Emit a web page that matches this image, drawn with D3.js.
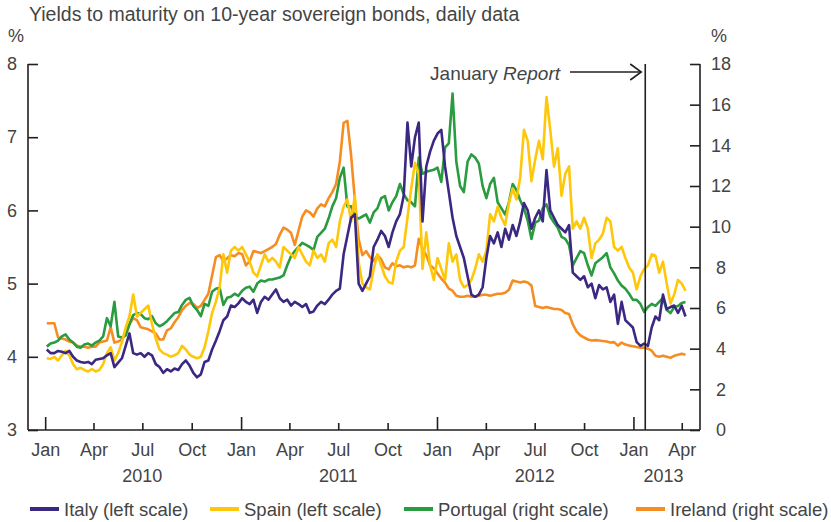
<!DOCTYPE html>
<html><head><meta charset="utf-8">
<script src="https://cdn.jsdelivr.net/npm/d3@7"></script>
<style>
body{margin:0;background:#fff;}
svg text{font-family:"Liberation Sans",Arial,Helvetica,sans-serif;fill:#444;}
</style></head>
<body><svg id="c" width="831" height="522"></svg>
<script>
// Weekly readings (first week starting 2010-01-04)
const italy = [4.1,4.05,4.05,4.08,4.07,4.05,4.08,4.0,3.95,3.93,3.92,3.93,3.9,3.96,3.97,3.98,4.02,4.05,3.86,3.92,3.98,4.15,4.32,4.05,4.03,4.05,4.0,4.05,4.02,3.9,3.86,3.78,3.83,3.8,3.84,3.82,3.9,3.95,3.88,3.78,3.72,3.76,3.93,3.95,4.1,4.22,4.35,4.5,4.55,4.7,4.68,4.73,4.8,4.75,4.72,4.78,4.6,4.75,4.82,4.78,4.85,4.92,4.8,4.75,4.78,4.7,4.75,4.72,4.68,4.72,4.6,4.62,4.7,4.75,4.72,4.78,4.85,4.9,4.93,5.4,5.65,5.9,5.95,5.0,4.9,5.0,5.1,5.5,5.6,5.72,5.65,5.5,5.7,5.85,5.95,6.2,7.2,6.6,7.0,7.2,5.85,6.6,6.8,6.95,7.05,7.1,6.6,6.25,5.9,5.65,5.5,5.35,5.1,4.85,4.82,4.85,4.95,5.35,5.65,5.55,5.7,5.5,5.75,5.6,5.8,5.65,5.85,6.1,6.0,5.75,5.9,6.0,5.85,6.55,6.0,5.9,5.8,5.75,5.7,5.8,5.15,5.1,5.05,5.1,4.95,5.0,4.8,4.98,4.92,4.95,4.75,4.85,4.45,4.75,4.5,4.45,4.4,4.2,4.15,4.18,4.15,4.4,4.55,4.5,4.85,4.65,4.68,4.7,4.6,4.7,4.55];
const spain = [3.98,3.97,4.0,3.95,4.02,4.08,4.02,3.9,3.83,3.85,3.82,3.8,3.83,3.8,3.82,3.9,4.05,4.13,3.95,4.05,4.2,4.4,4.55,4.85,4.55,4.6,4.65,4.7,4.45,4.25,4.1,4.05,4.03,4.0,4.02,4.05,4.15,4.1,4.03,4.0,3.98,4.0,4.13,4.35,4.6,4.75,4.95,5.4,5.15,5.45,5.5,5.45,5.5,5.4,5.3,5.15,5.1,5.25,5.4,5.3,5.35,5.3,5.22,5.5,5.45,5.4,5.35,5.5,5.4,5.3,5.25,5.45,5.35,5.4,5.3,5.55,5.6,5.5,5.85,6.05,6.15,5.85,6.2,5.3,5.0,4.95,4.92,5.2,5.4,5.25,5.1,5.02,5.0,5.3,5.45,5.5,5.9,6.3,6.65,6.5,5.2,5.7,5.25,5.05,5.35,5.2,5.05,5.55,5.3,5.4,5.05,4.95,4.98,5.05,5.2,5.4,5.3,5.45,5.95,5.85,6.05,5.9,5.8,6.1,6.3,6.15,6.45,7.1,6.95,6.4,6.7,6.95,6.7,7.55,7.1,6.6,6.85,6.2,6.5,6.6,5.75,5.85,5.75,5.9,5.75,5.35,5.55,5.6,5.68,5.9,5.85,5.5,5.45,5.5,5.35,5.22,5.15,4.92,5.1,5.2,5.25,5.4,5.38,5.15,5.3,5.0,4.73,4.85,5.05,5.0,4.9];
const portugal = [4.1,4.25,4.3,4.4,4.6,4.7,4.45,4.3,4.1,4.05,4.2,4.25,4.15,4.3,4.4,4.6,5.5,5.1,6.3,4.6,4.55,4.65,5.2,5.65,5.75,5.7,5.5,5.45,5.6,5.25,5.1,5.2,5.35,5.55,5.75,5.8,6.15,6.4,6.5,6.1,5.9,5.6,6.2,6.1,6.8,6.95,7.0,6.15,6.5,6.55,6.7,6.6,6.85,7.0,7.05,6.8,7.2,7.35,7.3,7.4,7.4,7.45,7.5,7.6,8.1,8.55,8.8,9.0,9.2,9.1,9.0,8.85,9.5,9.7,9.9,10.4,11.0,11.4,12.4,12.9,11.0,11.0,10.5,10.4,10.5,10.6,10.2,10.7,10.9,11.4,11.5,10.8,11.2,11.5,12.1,11.6,11.3,11.2,11.0,13.4,12.6,12.7,12.75,12.8,12.9,12.2,13.9,14.1,16.55,13.2,12.0,11.7,13.2,13.55,13.4,13.1,12.0,11.4,12.1,12.4,11.2,10.9,10.6,11.2,12.1,11.8,11.3,10.9,10.3,9.4,10.2,10.3,10.9,11.1,10.5,10.2,9.95,9.5,9.4,9.1,8.1,8.45,8.8,8.7,8.1,7.6,8.2,8.35,8.5,8.7,8.0,7.7,7.35,7.1,6.95,6.7,6.4,6.4,6.2,5.8,6.05,6.2,6.1,6.3,6.5,5.9,5.75,6.05,6.1,6.25,6.3];
const ireland = [5.25,5.25,5.25,4.55,4.5,4.45,4.35,4.3,4.15,4.1,4.1,4.05,4.1,4.1,4.3,4.35,4.4,5.05,4.3,4.35,4.45,4.7,5.2,5.5,5.4,5.05,5.0,4.95,4.85,4.75,4.45,4.45,4.9,5.0,5.3,5.55,5.9,6.1,6.25,6.2,6.0,6.1,6.4,6.7,7.6,8.5,8.6,8.3,8.45,8.6,8.55,8.7,8.65,8.1,8.3,8.8,8.75,8.7,8.8,8.9,9.0,9.15,9.6,9.95,9.85,9.7,9.1,9.8,10.5,10.8,10.7,10.5,10.9,11.1,11.0,11.4,11.7,12.1,13.2,15.1,15.2,13.5,11.3,9.4,8.6,8.8,8.5,8.3,8.6,8.4,8.0,7.9,8.2,8.05,8.1,8.0,8.05,8.0,8.1,9.4,8.9,8.6,8.1,7.95,7.7,7.45,7.25,6.95,6.85,6.6,6.55,6.55,6.6,6.55,6.55,6.6,6.65,6.65,6.6,6.65,6.7,6.7,6.75,6.9,7.35,7.3,7.25,7.3,7.25,7.1,6.1,6.05,6.0,6.05,6.0,5.95,5.95,5.9,5.75,5.7,5.2,4.85,4.65,4.55,4.45,4.4,4.42,4.4,4.38,4.35,4.3,4.32,4.15,4.3,4.2,4.15,4.12,4.08,4.05,4.05,4.0,3.9,3.65,3.6,3.65,3.6,3.55,3.65,3.7,3.75,3.7];

const leftTicks = [3,4,5,6,7,8];
const rightTicks = [0,2,4,6,8,10,12,14,16,18];
const monthNames = ["Jan","Apr","Jul","Oct"];
const yearLabels = ["2010","2011","2012","2013"];
const yearLabelDates = ["2010-07-01","2011-07-01","2012-07-01","2013-02-26"];
const seriesNames = ["Italy (left scale)","Spain (left scale)","Portugal (right scale)","Ireland (right scale)"];
const seriesColors = ["#3b2883","#ffc709","#2a9b3f","#f68d22"];
const reportDate = "2013-01-23";

const svg = d3.select("#c");
const start = new Date(Date.UTC(2010,0,4));
const dates = d3.range(italy.length).map(i => d3.utcDay.offset(start, 7*i));

const x = d3.scaleUtc().domain([new Date(Date.UTC(2009,10,30)), new Date(Date.UTC(2013,4,5))]).range([28,700]);
const yL = d3.scaleLinear().domain([3,8]).range([430,64]);
const yR = d3.scaleLinear().domain([0,18]).range([430,64]);

const axisColor = "#231f20";
const fs = 18;

// title and units
svg.append("text").attr("x",29).attr("y",21).attr("font-size",19.5).text("Yields to maturity on 10-year sovereign bonds, daily data");
svg.append("text").attr("x",8).attr("y",42).attr("font-size",fs).text("%");
svg.append("text").attr("x",711).attr("y",42).attr("font-size",fs).text("%");

// axes
const gL = svg.append("g").attr("transform","translate(28,0)")
  .call(d3.axisRight(yL).tickValues(leftTicks).tickSize(10).tickFormat(d3.format("d")));
gL.selectAll("text").attr("x",-11).attr("text-anchor","end").attr("font-size",fs);
const gR = svg.append("g").attr("transform","translate(700,0)")
  .call(d3.axisLeft(yR).tickValues(rightTicks).tickSize(10).tickFormat(d3.format("d")));
gR.selectAll("text").attr("x",21).attr("text-anchor","middle").attr("font-size",fs);

const quarterTicks = d3.utcMonth.every(3).range(new Date(Date.UTC(2010,0,1)), new Date(Date.UTC(2013,3,2)));
const gB = svg.append("g").attr("transform","translate(0,430)")
  .call(d3.axisTop(x).tickValues(quarterTicks).tickSizeOuter(0).tickFormat(() => ""));
gB.selectAll(".tick line").attr("y2", d => d.getUTCMonth() === 0 ? -13 : -7);
gB.selectAll(".tick").append("text").attr("y",26).attr("text-anchor","middle").attr("font-size",fs)
  .text(d => monthNames[d.getUTCMonth()/3]);

[gL,gR,gB].forEach(g => {
  g.select(".domain").attr("stroke",axisColor).attr("stroke-width",1.6);
  g.selectAll(".tick line").attr("stroke",axisColor).attr("stroke-width",1.6);
  g.selectAll("text").attr("fill","#444").attr("font-family","Liberation Sans, Arial, sans-serif");
});
gL.select(".domain").attr("d","M0,430V64");
gR.select(".domain").attr("d","M0,430V64");
gB.select(".domain").attr("d","M28,0H700");

svg.append("g").selectAll("text").data(yearLabels).join("text")
  .attr("x",(d,i) => x(new Date(yearLabelDates[i]))).attr("y",482)
  .attr("text-anchor","middle").attr("font-size",fs).text(d => d);

// series
const lineL = d3.line().x((d,i) => x(dates[i])).y(d => yL(d));
const lineR = d3.line().x((d,i) => x(dates[i])).y(d => yR(d));
const layers = [
  {data: ireland, line: lineR, c: seriesColors[3]},
  {data: portugal, line: lineR, c: seriesColors[2]},
  {data: spain, line: lineL, c: seriesColors[1]},
  {data: italy, line: lineL, c: seriesColors[0]}
];
svg.append("g").selectAll("path").data(layers).join("path")
  .attr("d", d => d.line(d.data)).attr("fill","none").attr("stroke", d => d.c)
  .attr("stroke-width",2.6).attr("stroke-linejoin","round");

// January Report marker
const rx = x(new Date(reportDate));
svg.append("line").attr("x1",rx).attr("x2",rx).attr("y1",64).attr("y2",430).attr("stroke",axisColor).attr("stroke-width",1.6);
const t = svg.append("text").attr("x",560).attr("y",80).attr("text-anchor","end").attr("font-size",19);
t.append("tspan").text("January ");
t.append("tspan").attr("font-style","italic").text("Report");
svg.append("line").attr("x1",570).attr("x2",rx-4).attr("y1",72).attr("y2",72).attr("stroke",axisColor).attr("stroke-width",1.6);
svg.append("path").attr("d",`M${rx-15},64L${rx-4},72L${rx-15},80`).attr("fill","none").attr("stroke",axisColor).attr("stroke-width",1.6);

// legend
const legX = [30,210,404,636];
const lg = svg.append("g").selectAll("g").data(seriesNames).join("g")
  .attr("transform",(d,i) => `translate(${legX[i]},509)`);
lg.append("line").attr("x1",0).attr("x2",29).attr("stroke",(d,i) => seriesColors[i]).attr("stroke-width",4);
lg.append("text").attr("x",34).attr("y",7).attr("font-size",18.5).text(d => d);
</script></body></html>
